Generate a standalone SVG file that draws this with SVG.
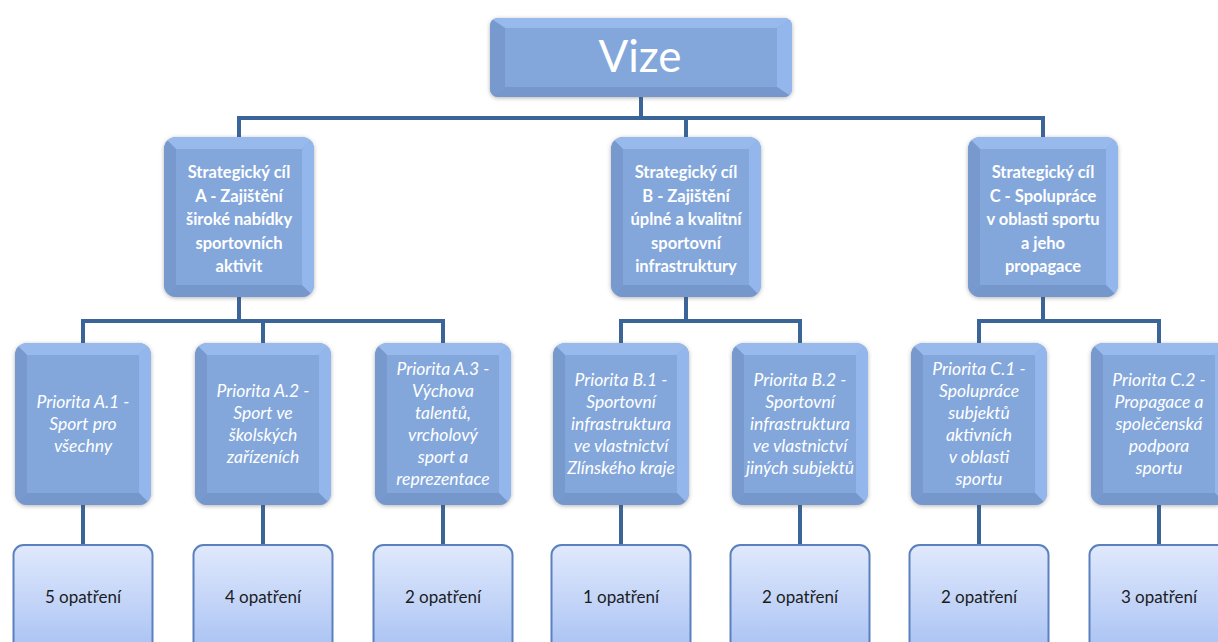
<svg xmlns="http://www.w3.org/2000/svg" xmlns:xlink="http://www.w3.org/1999/xlink" width="1218" height="642" viewBox="0 0 1218 642">
<style>
.conn{fill:none;stroke:#3b6598;stroke-width:4;stroke-linejoin:miter;stroke-linecap:butt}
.st{font-family:Lato,"Open Sans","Liberation Sans",sans-serif;font-weight:bold;font-size:16.5px;fill:#ffffff;text-anchor:middle}
.pr{font-family:Lato,"Open Sans","Liberation Sans",sans-serif;font-style:italic;font-size:17.5px;fill:#ffffff;text-anchor:middle}
.bt{font-family:Lato,"Open Sans","Liberation Sans",sans-serif;font-size:17px;fill:#1c1c1c;text-anchor:middle}
.vz{font-family:Lato,"Open Sans","Liberation Sans",sans-serif;font-size:44px;fill:#ffffff;text-anchor:middle}
.bevT{fill:#98b9ec}.bevR{fill:#93b6ec}.bevB{fill:#7597cb}.bevL{fill:#7899cd}
.face{fill:#83a7db}
</style>
<defs>
<filter id="sh" x="-20%" y="-20%" width="140%" height="140%">
<feDropShadow dx="0" dy="1" stdDeviation="2" flood-color="#555555" flood-opacity="0.45"/>
</filter>
<linearGradient id="bg" x1="0" y1="0" x2="0" y2="1">
<stop offset="0" stop-color="#e0e9fc"/>
<stop offset="1" stop-color="#a6c0f3"/>
</linearGradient>
<clipPath id="vClip"><rect x="490" y="18" width="302" height="79" rx="8"/></clipPath>
<clipPath id="sClip"><rect width="150" height="160" rx="12"/></clipPath>
<clipPath id="pClip"><rect width="136" height="162" rx="12"/></clipPath>
<g id="sShape">
<rect class="face" width="150" height="160" rx="12" filter="url(#sh)"/>
<g clip-path="url(#sClip)">
<path class="bevT" d="M0,0 H150 L138,12 H12 Z"/>
<path class="bevR" d="M150,0 V160 L138,148 V12 Z"/>
<path class="bevB" d="M0,160 H150 L138,148 H12 Z"/>
<path class="bevL" d="M0,0 V160 L12,148 V12 Z"/>
</g>
</g>
<g id="pShape">
<rect class="face" width="136" height="162" rx="12" filter="url(#sh)"/>
<g clip-path="url(#pClip)">
<path class="bevT" d="M0,0 H136 L124,12 H12 Z"/>
<path class="bevR" d="M136,0 V162 L124,150 V12 Z"/>
<path class="bevB" d="M0,162 H136 L124,150 H12 Z"/>
<path class="bevL" d="M0,0 V162 L12,150 V12 Z"/>
</g>
</g>
<rect id="bShape" width="139" height="112" rx="10" fill="url(#bg)" stroke="#5a80bd" stroke-width="2"/>
</defs>

<g id="connectors">
<path class="conn" d="M641,97 V118"/>
<path class="conn" d="M239,137 V118 H1043 V137"/>
<path class="conn" d="M686,118 V137"/>
<path class="conn" d="M239,297 V321"/>
<path class="conn" d="M83,343 V321 H443 V343"/>
<path class="conn" d="M263,321 V343"/>
<path class="conn" d="M686,297 V321"/>
<path class="conn" d="M621,343 V321 H800 V343"/>
<path class="conn" d="M1043,297 V321"/>
<path class="conn" d="M979,343 V321 H1159 V343"/>
<path class="conn" d="M83,505 V545"/>
<path class="conn" d="M263,505 V545"/>
<path class="conn" d="M443,505 V545"/>
<path class="conn" d="M621,505 V545"/>
<path class="conn" d="M800,505 V545"/>
<path class="conn" d="M979,505 V545"/>
<path class="conn" d="M1159,505 V545"/>
</g>

<g id="vize">
<rect class="face" x="490" y="18" width="302" height="79" rx="8" filter="url(#sh)"/>
<g clip-path="url(#vClip)">
<path class="bevT" d="M490,18 H792 L777,28 H505 Z"/>
<path class="bevR" d="M792,18 V97 L777,87 V28 Z"/>
<path class="bevB" d="M490,97 H792 L777,87 H505 Z"/>
<path class="bevL" d="M490,18 V97 L505,87 V28 Z"/>
</g>
<text class="vz" x="640" y="72">Vize</text>
</g>

<g id="cilA">
<use href="#sShape" x="164" y="137"/>
<text class="st" x="239" y="178"><tspan x="239">Strategický cíl</tspan><tspan x="239" dy="23.5">A - Zajištění</tspan><tspan x="239" dy="23.5">široké nabídky</tspan><tspan x="239" dy="23.5">sportovních</tspan><tspan x="239" dy="23.5">aktivit</tspan></text>
</g>
<g id="cilB">
<use href="#sShape" x="611" y="137"/>
<text class="st" x="686" y="178"><tspan x="686">Strategický cíl</tspan><tspan x="686" dy="23.5">B - Zajištění</tspan><tspan x="686" dy="23.5">úplné a kvalitní</tspan><tspan x="686" dy="23.5">sportovní</tspan><tspan x="686" dy="23.5">infrastruktury</tspan></text>
</g>
<g id="cilC">
<use href="#sShape" x="968" y="137"/>
<text class="st" x="1043" y="178"><tspan x="1043">Strategický cíl</tspan><tspan x="1043" dy="23.5">C - Spolupráce</tspan><tspan x="1043" dy="23.5">v oblasti sportu</tspan><tspan x="1043" dy="23.5">a jeho</tspan><tspan x="1043" dy="23.5">propagace</tspan></text>
</g>

<g id="prioA1">
<use href="#pShape" x="15" y="343"/>
<text class="pr" x="83" y="407.5"><tspan x="83">Priorita A.1 -</tspan><tspan x="83" dy="22">Sport pro</tspan><tspan x="83" dy="22">všechny</tspan></text>
</g>
<g id="prioA2">
<use href="#pShape" x="195" y="343"/>
<text class="pr" x="263" y="396.5"><tspan x="263">Priorita A.2 -</tspan><tspan x="263" dy="22">Sport ve</tspan><tspan x="263" dy="22">školských</tspan><tspan x="263" dy="22">zařízeních</tspan></text>
</g>
<g id="prioA3">
<use href="#pShape" x="375" y="343"/>
<text class="pr" x="443" y="374.5"><tspan x="443">Priorita A.3 -</tspan><tspan x="443" dy="22">Výchova</tspan><tspan x="443" dy="22">talentů,</tspan><tspan x="443" dy="22">vrcholový</tspan><tspan x="443" dy="22">sport a</tspan><tspan x="443" dy="22">reprezentace</tspan></text>
</g>
<g id="prioB1">
<use href="#pShape" x="553" y="343"/>
<text class="pr" x="621" y="385.5"><tspan x="621">Priorita B.1 -</tspan><tspan x="621" dy="22">Sportovní</tspan><tspan x="621" dy="22">infrastruktura</tspan><tspan x="621" dy="22">ve vlastnictví</tspan><tspan x="621" dy="22">Zlínského kraje</tspan></text>
</g>
<g id="prioB2">
<use href="#pShape" x="732" y="343"/>
<text class="pr" x="800" y="385.5"><tspan x="800">Priorita B.2 -</tspan><tspan x="800" dy="22">Sportovní</tspan><tspan x="800" dy="22">infrastruktura</tspan><tspan x="800" dy="22">ve vlastnictví</tspan><tspan x="800" dy="22">jiných subjektů</tspan></text>
</g>
<g id="prioC1">
<use href="#pShape" x="911" y="343"/>
<text class="pr" x="979" y="374.5"><tspan x="979">Priorita C.1 -</tspan><tspan x="979" dy="22">Spolupráce</tspan><tspan x="979" dy="22">subjektů</tspan><tspan x="979" dy="22">aktivních</tspan><tspan x="979" dy="22">v oblasti</tspan><tspan x="979" dy="22">sportu</tspan></text>
</g>
<g id="prioC2">
<use href="#pShape" x="1091" y="343"/>
<text class="pr" x="1159" y="385.5"><tspan x="1159">Priorita C.2 -</tspan><tspan x="1159" dy="22">Propagace a</tspan><tspan x="1159" dy="22">společenská</tspan><tspan x="1159" dy="22">podpora</tspan><tspan x="1159" dy="22">sportu</tspan></text>
</g>

<g id="opA1"><use href="#bShape" x="13.5" y="545"/><text class="bt" x="83" y="603">5 opatření</text></g>
<g id="opA2"><use href="#bShape" x="193.5" y="545"/><text class="bt" x="263" y="603">4 opatření</text></g>
<g id="opA3"><use href="#bShape" x="373.5" y="545"/><text class="bt" x="443" y="603">2 opatření</text></g>
<g id="opB1"><use href="#bShape" x="551.5" y="545"/><text class="bt" x="621" y="603">1 opatření</text></g>
<g id="opB2"><use href="#bShape" x="730.5" y="545"/><text class="bt" x="800" y="603">2 opatření</text></g>
<g id="opC1"><use href="#bShape" x="909.5" y="545"/><text class="bt" x="979" y="603">2 opatření</text></g>
<g id="opC2"><use href="#bShape" x="1089.5" y="545"/><text class="bt" x="1159" y="603">3 opatření</text></g>
</svg>
